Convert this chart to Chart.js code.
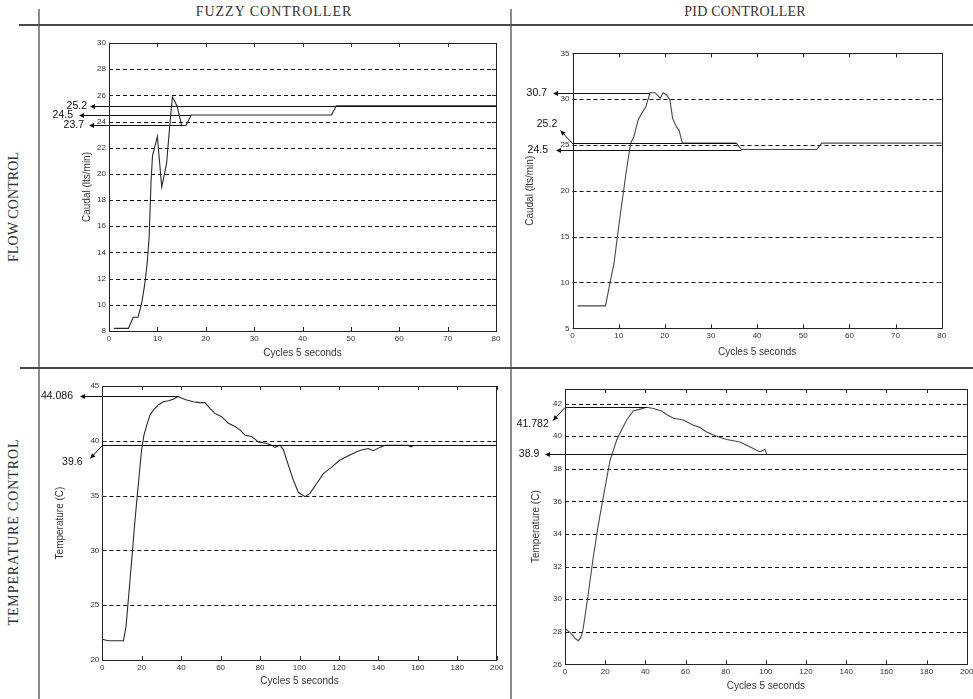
<!DOCTYPE html>
<html><head><meta charset="utf-8"><title>Fuzzy vs PID controller</title>
<script src="https://cdn.jsdelivr.net/npm/chart.js@4.4.1/dist/chart.umd.min.js"></script>
<style>
html,body{margin:0;padding:0;background:#fff}
#page{position:relative;width:973px;height:699px;overflow:hidden;background:#fff}
canvas{position:absolute}
.vline{position:absolute;width:2px;background:#8c8c8c}
.hline{position:absolute;height:2px;background:#4a4a4a}
.head{position:absolute;font-family:'Liberation Serif','DejaVu Serif',serif;font-size:14px;color:#333;white-space:nowrap;transform:translate(-50%,-50%)}
.side{position:absolute;font-family:'Liberation Serif','DejaVu Serif',serif;font-size:14px;color:#333;white-space:nowrap;transform:translate(-50%,-50%) rotate(-90deg)}
</style></head><body><div id="page">
<div class="vline" style="left:38px;top:9px;height:690px"></div>
<div class="vline" style="left:510px;top:9px;height:690px"></div>
<div class="hline" style="left:19px;top:24px;width:954px"></div>
<div class="hline" style="left:20px;top:367px;width:953px"></div>
<div class="head" id="h1" style="left:274px;top:12px;letter-spacing:1px">FUZZY CONTROLLER</div>
<div class="head" id="h2" style="left:745px;top:12px;letter-spacing:0.2px">PID CONTROLLER</div>
<div class="side" id="s1" style="left:14px;top:207px;letter-spacing:0.1px">FLOW CONTROL</div>
<div class="side" id="s2" style="left:14px;top:532px;letter-spacing:0.9px">TEMPERATURE CONTROL</div>
<canvas id="c1" width="470" height="340" style="left:40px;top:26px"></canvas>
<canvas id="c2" width="461" height="340" style="left:512px;top:26px"></canvas>
<canvas id="c3" width="470" height="330" style="left:40px;top:369px"></canvas>
<canvas id="c4" width="461" height="330" style="left:512px;top:369px"></canvas>
</div>
<script>
// ---------------- data ----------------
const columnTitles = ['FUZZY CONTROLLER', 'PID CONTROLLER'];
const rowTitles = ['FLOW CONTROL', 'TEMPERATURE CONTROL'];
const xAxisTitle = 'Cycles 5 seconds';
const flowAxisTitle = 'Caudal (lts/min)';
const tempAxisTitle = 'Temperature (C)';

// Fuzzy controller, flow
const fuzzyFlowCycles = [1, 4, 5, 6, 6.75, 7.4, 7.9, 8.3, 8.7, 9, 10, 10.9, 11.9, 12.5, 13.1, 14.1, 15, 15.9, 17, 46, 47, 80];
const fuzzyFlowCaudal = [8.2, 8.2, 9.05, 9.05, 10.1, 11.6, 13.2, 15.2, 19.5, 21.4, 22.85, 19.0, 20.8, 23.4, 25.9, 25.15, 23.7, 23.7, 24.5, 24.5, 25.2, 25.2];
const fuzzyFlowMarkValues = [25.2, 24.5, 23.7];
const fuzzyFlowMarkLabels = ['25.2', '24.5', '23.7'];
const fuzzyFlowMarkEnds = [80, 17, 15];

// PID controller, flow
const pidFlowCycles = [1.1, 7.15, 8.1, 9, 9.9, 10.8, 11.7, 12.6, 13.3, 14.2, 15, 15.9, 16.8, 17.9, 19, 19.65, 20.4, 21.1, 21.7, 22.5, 23.1, 23.8, 35.5, 36.6, 52.9, 54, 80];
const pidFlowCaudal = [7.45, 7.45, 9.9, 12.1, 15.7, 19.0, 22.3, 25.2, 25.9, 27.7, 28.45, 29.2, 30.7, 30.7, 30.1, 30.7, 30.45, 29.9, 27.9, 27.0, 26.6, 25.2, 25.2, 24.5, 24.5, 25.2, 25.2];
const pidFlowMarkValues = [30.7, 25.2, 24.5];
const pidFlowMarkLabels = ['30.7', '25.2', '24.5'];
const pidFlowMarkEnds = [16.8, 35.5, 36.6];

// Fuzzy controller, temperature
const fuzzyTempCycles = [0, 3, 10.7, 12, 13.2, 14.9, 16.6, 18.3, 19.95, 21.1, 22.5, 24.2, 25.9, 28.4, 30.9, 33.5, 36, 38.3, 40, 42.8, 46.2, 49.5, 52, 54.6, 57.1, 60.5, 63.9, 67.3, 69.8, 72.4, 75.7, 79.1, 82.5, 85.9, 87.6, 90.1, 91.8, 94.3, 96.9, 99.4, 102.8, 105.3, 108.7, 112.1, 116.3, 120.5, 125.6, 129, 131.5, 134.9, 137.4, 140.8, 143.4, 155, 156.5, 158];
const fuzzyTempValues = [21.9, 21.75, 21.75, 23.0, 25.5, 29.1, 32.8, 36.1, 39.2, 40.5, 41.4, 42.35, 42.8, 43.27, 43.57, 43.66, 43.8, 44.05, 43.9, 43.72, 43.57, 43.48, 43.48, 42.96, 42.5, 42.2, 41.6, 41.3, 41.0, 40.5, 40.4, 39.9, 39.8, 39.6, 39.4, 39.6, 39.2, 37.8, 36.4, 35.3, 34.9, 35.2, 36.1, 37.0, 37.6, 38.25, 38.7, 39.0, 39.16, 39.3, 39.1, 39.4, 39.6, 39.6, 39.45, 39.6];
const fuzzyTempMarkValues = [44.086, 39.6];
const fuzzyTempMarkLabels = ['44.086', '39.6'];
const fuzzyTempMarkEnds = [38.3, 200];

// PID controller, temperature
const pidTempCycles = [0, 3, 5, 6.6, 7.7, 8.8, 11.1, 14.1, 16.5, 19.1, 22.4, 25.7, 27.4, 30.7, 34, 37, 40.7, 44, 48.1, 51, 54, 58.9, 63.9, 67, 70.5, 75.5, 80.5, 87.1, 92, 95.4, 97, 99.6, 100.4];
const pidTempValues = [28.2, 27.9, 27.6, 27.45, 27.6, 28.0, 29.9, 32.6, 34.5, 36.3, 38.5, 39.75, 40.2, 41.0, 41.55, 41.65, 41.78, 41.7, 41.55, 41.3, 41.1, 41.0, 40.67, 40.55, 40.26, 40.0, 39.8, 39.65, 39.35, 39.14, 39.05, 39.18, 38.9];
const pidTempMarkValues = [41.782, 38.9];
const pidTempMarkLabels = ['41.782', '38.9'];
const pidTempMarkEnds = [40.7, 200];

// axis ranges
const flowCyclesRange = [0, 80, 10];
const tempCyclesRange = [0, 200, 20];
const fuzzyFlowRange = [8, 30, 2];
const pidFlowRange = [5, 35, 5];
const fuzzyTempRange = [20, 45, 5];
const pidTempRange = [26, 42.9, 2];

// ---------------- drawing ----------------
const SANS = "'Liberation Sans', Arial, sans-serif";

function arrowHead(ctx, x, y, ang) {
  const L = 5, W = 2.4;
  const c = Math.cos(ang), s = Math.sin(ang);
  ctx.beginPath();
  ctx.moveTo(x, y);
  ctx.lineTo(x - L * c + W * s, y - L * s - W * c);
  ctx.lineTo(x - L * c - W * s, y - L * s + W * c);
  ctx.closePath();
  ctx.fill();
}

const matlabFrame = {
  id: 'matlabFrame',
  beforeDatasetsDraw(chart) {
    const {ctx, chartArea: a, scales: {x, y}} = chart;
    ctx.save();
    ctx.strokeStyle = '#111';
    ctx.lineWidth = 1;
    ctx.setLineDash([4, 3]);
    y.ticks.forEach(t => {
      if (t.value <= y.min || t.value >= y.max) return;
      const py = Math.round(y.getPixelForValue(t.value)) + 0.5;
      ctx.beginPath(); ctx.moveTo(a.left, py); ctx.lineTo(a.right, py); ctx.stroke();
    });
    ctx.restore();
  },
  afterDraw(chart, args, opts) {
    const {ctx, chartArea: a, scales: {x, y}} = chart;
    ctx.save();
    ctx.strokeStyle = '#222';
    ctx.lineWidth = 1;
    ctx.strokeRect(Math.round(a.left) + 0.5, Math.round(a.top) + 0.5, Math.round(a.right - a.left), Math.round(a.bottom - a.top));
    const T = 4;
    ctx.beginPath();
    x.ticks.forEach(t => {
      const px = Math.round(x.getPixelForValue(t.value)) + 0.5;
      ctx.moveTo(px, a.bottom); ctx.lineTo(px, a.bottom - T);
      ctx.moveTo(px, a.top); ctx.lineTo(px, a.top + T);
    });
    y.ticks.forEach(t => {
      const py = Math.round(y.getPixelForValue(t.value)) + 0.5;
      ctx.moveTo(a.left, py); ctx.lineTo(a.left + T, py);
      ctx.moveTo(a.right, py); ctx.lineTo(a.right - T, py);
    });
    ctx.stroke();
    ctx.strokeStyle = '#111';
    ctx.fillStyle = '#111';
    ctx.font = '10.5px ' + SANS;
    ctx.textBaseline = 'middle';
    (opts.marks || []).forEach(m => {
      const py = Math.round(y.getPixelForValue(m.value)) + 0.5;
      const xe = x.getPixelForValue(m.end);
      ctx.lineWidth = 1.2;
      if (m.kind === 'h') {
        const tip = a.left + m.tip;
        ctx.beginPath(); ctx.moveTo(tip + 2, py); ctx.lineTo(xe, py); ctx.stroke();
        arrowHead(ctx, tip, py, Math.PI);
        ctx.textAlign = 'right';
        ctx.fillText(m.label, a.left + m.labelRight, py);
      } else {
        const dir = m.kind === 'up' ? -1 : 1;
        ctx.beginPath(); ctx.moveTo(a.left, py); ctx.lineTo(xe, py); ctx.stroke();
        const ex = a.left - 12, ey = py + dir * 13;
        ctx.lineWidth = 1;
        ctx.beginPath(); ctx.moveTo(a.left, py); ctx.lineTo(ex, ey); ctx.stroke();
        arrowHead(ctx, ex, ey, Math.atan2(ey - py, ex - a.left));
        ctx.textAlign = 'center';
        ctx.fillText(m.label, a.left + m.lx, py + m.ly);
      }
    });
    ctx.restore();
  }
};

function zipMarks(values, labels, ends, layout) {
  return values.map((v, i) => Object.assign({value: v, label: labels[i], end: ends[i]}, layout[i]));
}

function makeChart(id, cfg) {
  const canvas = document.getElementById(id);
  const W = canvas.width, H = canvas.height;
  const ar = cfg.area;
  const tickFont = {size: 8, family: SANS};
  const titleFont = {size: 10, family: SANS};
  return new Chart(canvas, {
    type: 'line',
    data: {datasets: [{
      data: cfg.xs.map((v, i) => ({x: v, y: cfg.ys[i]})),
      borderColor: cfg.lineColor, borderWidth: 1.1, pointRadius: 0, tension: 0, fill: false
    }]},
    options: {
      responsive: false, animation: false, devicePixelRatio: 1, events: [],
      layout: {padding: {left: 0, top: ar.top, right: W - ar.right, bottom: 0}},
      plugins: {legend: {display: false}, tooltip: {enabled: false}, matlabFrame: {marks: cfg.marks}},
      scales: {
        x: {
          type: 'linear', min: cfg.xr[0], max: cfg.xr[1],
          ticks: {stepSize: cfg.xr[2], font: tickFont, color: '#333', padding: 3, maxRotation: 0, autoSkip: false},
          grid: {display: false, drawTicks: false}, border: {display: false},
          title: {display: true, text: xAxisTitle, font: titleFont, color: '#333', padding: {top: 0, bottom: cfg.xTitlePad}},
          afterFit(s) { s.height = H - ar.bottom; s.paddingLeft = 0; s.paddingRight = 0; }
        },
        y: {
          type: 'linear', min: cfg.yr[0], max: cfg.yr[1],
          ticks: {stepSize: cfg.yr[2], font: tickFont, color: '#333', padding: 3, includeBounds: false},
          grid: {display: false, drawTicks: false}, border: {display: false},
          title: {display: true, text: cfg.yTitle, font: titleFont, color: '#333', padding: {top: cfg.yTitlePad, bottom: 0}},
          afterFit(s) { s.width = ar.left; s.paddingTop = 0; s.paddingBottom = 0; }
        }
      }
    },
    plugins: [matlabFrame]
  });
}

makeChart('c1', {
  xs: fuzzyFlowCycles, ys: fuzzyFlowCaudal, xr: flowCyclesRange, yr: fuzzyFlowRange, lineColor: '#2a2a2a',
  yTitle: flowAxisTitle, area: {left: 69, top: 17, right: 456, bottom: 305}, yTitlePad: 41, xTitlePad: 7,
  marks: zipMarks(fuzzyFlowMarkValues, fuzzyFlowMarkLabels, fuzzyFlowMarkEnds, [
    {kind: 'h', tip: -19, labelRight: -22},
    {kind: 'h', tip: -30, labelRight: -36},
    {kind: 'h', tip: -20, labelRight: -25}
  ])
});
makeChart('c2', {
  xs: pidFlowCycles, ys: pidFlowCaudal, xr: flowCyclesRange, yr: pidFlowRange, lineColor: '#484848',
  yTitle: flowAxisTitle, area: {left: 60.5, top: 27.3, right: 429.7, bottom: 302.3}, yTitlePad: 12.5, xTitlePad: 8,
  marks: zipMarks(pidFlowMarkValues, pidFlowMarkLabels, pidFlowMarkEnds, [
    {kind: 'h', tip: -19.5, labelRight: -25.5},
    {kind: 'up', lx: -25.5, ly: -19},
    {kind: 'h', tip: -16.5, labelRight: -24.5}
  ])
});
makeChart('c3', {
  xs: fuzzyTempCycles, ys: fuzzyTempValues, xr: tempCyclesRange, yr: fuzzyTempRange, lineColor: '#2a2a2a',
  yTitle: tempAxisTitle, area: {left: 62.3, top: 17, right: 456.7, bottom: 291}, yTitlePad: 14, xTitlePad: 12,
  marks: zipMarks(fuzzyTempMarkValues, fuzzyTempMarkLabels, fuzzyTempMarkEnds, [
    {kind: 'h', tip: -22.3, labelRight: -29.3},
    {kind: 'down', lx: -30, ly: 16.5}
  ])
});
makeChart('c4', {
  xs: pidTempCycles, ys: pidTempValues, xr: tempCyclesRange, yr: pidTempRange, lineColor: '#484848',
  yTitle: tempAxisTitle, area: {left: 53, top: 20, right: 454.7, bottom: 295.3}, yTitlePad: 18, xTitlePad: 7,
  marks: zipMarks(pidTempMarkValues, pidTempMarkLabels, pidTempMarkEnds, [
    {kind: 'down', lx: -32.3, ly: 16.4},
    {kind: 'h', tip: -20, labelRight: -25.7}
  ])
});
</script>
</body></html>
